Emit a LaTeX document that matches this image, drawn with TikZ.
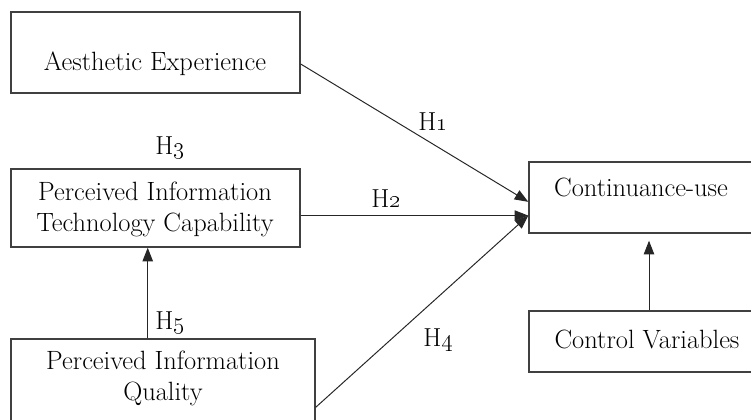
\documentclass[tikz,border=0pt]{standalone}
\usetikzlibrary{arrows.meta,fit,calc}

\begin{document}
\begin{tikzpicture}[x=0.025cm, y=-0.025cm,
  box/.style={draw=black!75, line width=1pt, inner sep=0pt},
  txt/.style={font=\fontsize{18.8}{22}\selectfont, align=center},
  hyp/.style={font=\fontsize{18.5}{21}\selectfont},
  arr/.style={-{Triangle[length=3.4mm,width=2.6mm]}, line width=0.7pt, black!85}]

\useasboundingbox (0,0) rectangle (751,420);

% boxes
\node[box, fit={(11,12) (300,93)}] (aes) {};
\node[box, fit={(11,169) (300,247)}] (pitc) {};
\node[box, fit={(11,339) (315,430)}] (piq) {};
\node[box, fit={(529,162) (753,233)}] (cu) {};
\node[box, fit={(529,311) (769,372)}] (cv) {};

% box texts
\node[txt] (aestxt) at (155,64) {Aesthetic Experience};
\node[txt] (pitctxt) at (155,209) {Perceived Information\\Technology Capability};
\node[txt] (piqtxt) at (163,378) {Perceived Information\\Quality};
\node[txt] (cutxt) at (641,187) {Continuance-use};
\node[txt] (cvtxt) at (647,339) {Control Variables};

% hypotheses
\coordinate (cuin1) at ($(cu.north west)!0.56!(cu.south west)$);
\coordinate (cuin2) at ($(cu.north west)!0.75!(cu.south west)$);
\coordinate (piqout) at ($(piq.north east)!0.747!(piq.south east)$);
\coordinate (piqtop) at ($(piq.north west)!0.45!(piq.north east)$);

\draw[arr] (aes.east |- aestxt) -- (cuin1);
\draw[arr] (cuin2 -| pitc.east) -- (cuin2);
\draw[arr] (piqout) -- (cuin2);
\draw[arr] (piqtop) -- (piqtop |- pitc.south);
\draw[arr, shorten >=1.75mm] (cv.north) -- (cv.north |- cu.south);

\node[hyp] (h1) at (433,122) {H\oldstylenums{1}};
\node[hyp] (h2) at (386,199) {H\oldstylenums{2}};
\node[hyp] (h3) at (170,148) {H\oldstylenums{3}};
\node[hyp] (h4) at (438,340) {H\oldstylenums{4}};
\node[hyp] (h5) at (170,323) {H\oldstylenums{5}};

\end{tikzpicture}
\end{document}
